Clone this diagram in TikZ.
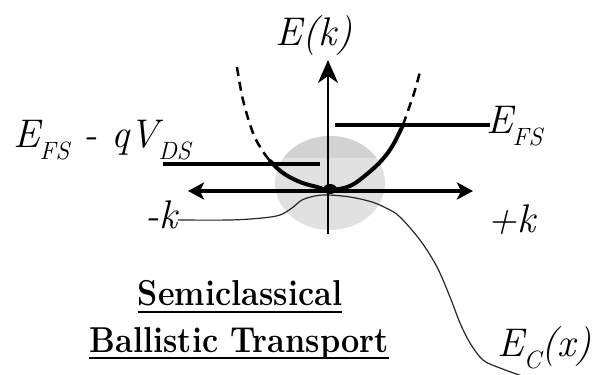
\documentclass[tikz,border=0pt]{standalone}
\usetikzlibrary{arrows.meta}
\definecolor{capgray}{RGB}{210,210,210}
\definecolor{bodygray}{RGB}{225,225,225}
\newcommand\lsub[1]{\raisebox{-12pt}{\fontsize{25}{25}\selectfont #1}}
\newcommand\ttltext[1]{\scalebox{0.9}[1]{#1}}
\begin{document}
\begin{tikzpicture}[x=1pt,y=-1pt,
  lbl/.style={inner sep=0pt, font=\fontsize{40}{40}\selectfont\itshape},
  ttl/.style={inner sep=0pt, anchor=base, font=\fontsize{36}{36}\selectfont\bfseries},
  axisv/.style={line width=2pt, -{Stealth[length=23pt,width=20pt,inset=7pt]}},
  axish/.style={line width=4.5pt, {Stealth[length=16pt,width=17pt,inset=4pt]}-{Stealth[length=16pt,width=17pt,inset=4pt]}},
  level/.style={line width=3.5pt},
  band/.style={line width=4pt, line cap=round, line join=round},
  bandext/.style={line width=2.5pt, dash pattern=on 9pt off 6pt},
  ecline/.style={line width=1.2pt, black!85}]
\useasboundingbox (0,0) rectangle (595,375);

% gray ellipse
\begin{scope}
  \clip (330,183) ellipse [x radius=55pt, y radius=47pt];
  \fill[bodygray] (270,130) rectangle (390,235);
  \fill[capgray] (270,130) rectangle (390,158);
\end{scope}

% coordinates
\coordinate (vbot) at (328,234);
\coordinate (vtop) at (328,60);
\coordinate (hl) at (188,191);
\coordinate (hr) at (473,191);
\coordinate (efsA) at (335,125);
\coordinate (efsB) at (490,125);
\coordinate (efdA) at (163,164);
\coordinate (efdB) at (320,164);
\coordinate (ecstart) at (178,220);

% conduction band E_C(x)
\draw[ecline] plot[smooth, tension=0.55] coordinates {(ecstart) (230,220) (262,218) (280,215) (292,208) (302,200) (315,196) (328,195) (350,197) (372,202) (388,209) (400,217) (420,240) (437,267) (450,297) (460,323) (470,343) (483,360) (500,368) (522,376)};

% axes
\draw[axisv] (vbot) -- (vtop);
\draw[axish] (hl) -- (hr);

% Fermi levels
\draw[level] (efsA) -- (efsB);
\draw[level] (efdA) -- (efdB);

% dispersion
\draw[bandext] plot[smooth, tension=0.6] coordinates {(237,67) (243,100) (253,133) (262,150) (270,161)};
\draw[bandext] plot[smooth, tension=0.6] coordinates {(403,125) (410,105) (415,90) (421,68)};
\draw[band] plot[smooth, tension=0.6] coordinates {(270,161) (283,173) (300,182) (317,187) (330,190) (350,186) (367,174) (382,160) (393,145) (403,125)};
\fill (330,189) ellipse [x radius=7pt, y radius=5pt];

% labels
\node[lbl, anchor=base] (ek) at (314,45) {E(k)};
\node[lbl, anchor=base west] (efs) at (486,133) {E\lsub{FS}};
\node[lbl, anchor=base west] (efsq) at (13,147) {E\lsub{FS} - qV\lsub{DS}};
\node[lbl, anchor=base east] (mk) at (178,228) {-k};
\node[lbl, anchor=base west] (pk) at (487,232) {+k};
\node[lbl, anchor=base west] (ec) at (497,356) {E\lsub{C}(x)};

% title
\node[ttl] (t1) at (240,305) {\ttltext{Semiclassical}};
\node[ttl] (t2) at (239,352) {\ttltext{Ballistic Transport}};
\draw[line width=1.6pt] ([yshift=-7pt]t1.base west) -- ([yshift=-7pt]t1.base east);
\draw[line width=1.6pt] ([yshift=-6pt]t2.base west) -- ([yshift=-6pt]t2.base east);
\end{tikzpicture}
\end{document}
